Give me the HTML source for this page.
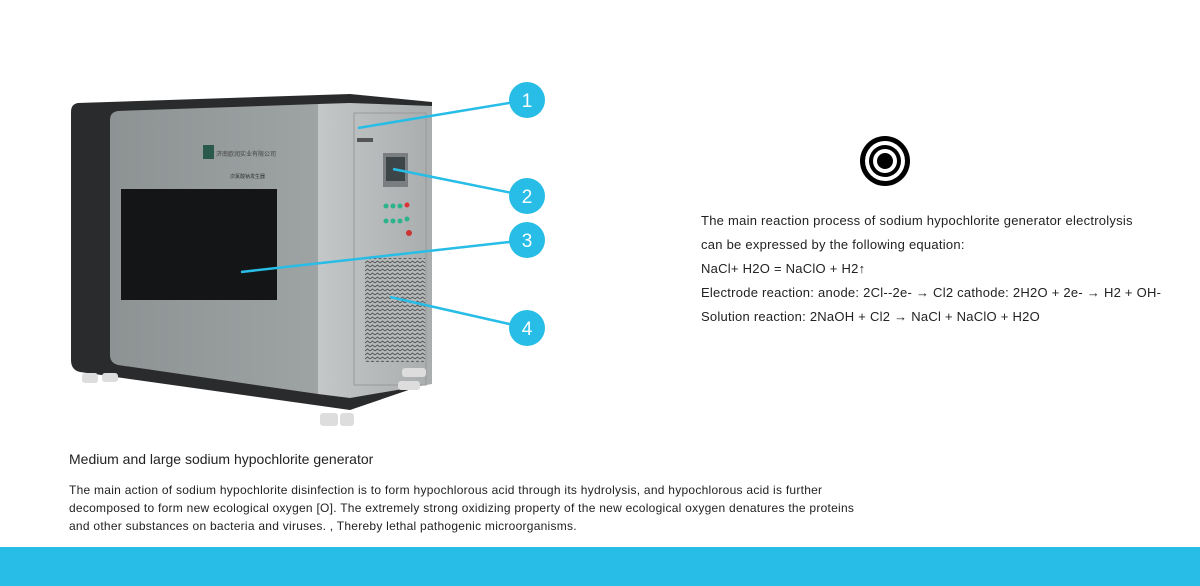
<!DOCTYPE html>
<html><head><meta charset="utf-8"><style>
body{margin:0;width:1200px;height:586px;background:#fff;position:relative;overflow:hidden;font-family:"Liberation Sans",Arial,sans-serif;color:#222}
.t{position:absolute;white-space:nowrap}
</style></head><body>
<svg width="1200" height="586" style="position:absolute;left:0;top:0">
<defs>
<linearGradient id="g1" x1="0" x2="1"><stop offset="0" stop-color="#8d9293"/><stop offset="1" stop-color="#9ea3a4"/></linearGradient>
<linearGradient id="g2" x1="0" x2="1"><stop offset="0" stop-color="#c4c7c8"/><stop offset="1" stop-color="#a9adae"/></linearGradient>
<pattern id="vp" width="5" height="4" patternUnits="userSpaceOnUse"><rect width="5" height="4" fill="#b7babb"/><path d="M0 3 L2.5 1 L5 3" stroke="#555" stroke-width="1" fill="none"/></pattern>
</defs>
<path d="M78 103 L350 94 L432 102 L432 382 L350 410 L80 372 Q71 370 71 360 L71 112 Q71 104 78 103Z" fill="#2a2b2d"/>
<path d="M118 111 L318 104 L318 394 L118 365 Q110 363 110 355 L110 120 Q110 112 118 111Z" fill="url(#g1)"/>
<path d="M318 104 L350 103 L432 106 L432 384 L350 398 L318 394Z" fill="url(#g2)"/>
<rect x="354" y="113" width="72" height="272" fill="none" stroke="#999" stroke-width="1"/>
<rect x="121" y="189" width="156" height="111" fill="#141516"/>
<rect x="383" y="153" width="25" height="34" fill="#7a7e80"/><rect x="386" y="157" width="19" height="24" fill="#3c4548"/>
<g fill="#2db38a"><circle cx="386" cy="206" r="2.5"/><circle cx="393" cy="206" r="2.5"/><circle cx="400" cy="206" r="2.5"/><circle cx="386" cy="221" r="2.5"/><circle cx="393" cy="221" r="2.5"/><circle cx="400" cy="221" r="2.5"/><circle cx="407" cy="219" r="2.5"/></g>
<circle cx="407" cy="205" r="2.5" fill="#d33"/><circle cx="409" cy="233" r="3" fill="#c33"/>
<rect x="365" y="258" width="60" height="104" fill="url(#vp)"/>
<rect x="357" y="138" width="16" height="4" fill="#555"/>
<rect x="203" y="145" width="11" height="14" fill="#2a5b4a"/>
<text x="216" y="156" font-size="6" fill="#444">济南欧润实业有限公司</text>
<text x="230" y="178" font-size="5" fill="#333">次氯酸钠发生器</text>
<g fill="#ddd"><rect x="82" y="373" width="16" height="10" rx="3"/><rect x="102" y="373" width="16" height="9" rx="3"/><rect x="320" y="413" width="18" height="13" rx="3"/><rect x="340" y="413" width="14" height="13" rx="3"/><rect x="398" y="381" width="22" height="9" rx="3"/><rect x="402" y="368" width="24" height="9" rx="3"/></g>
<g stroke="#27bde6" stroke-width="2.5"><line x1="358" y1="128" x2="527" y2="100"/><line x1="393" y1="169" x2="527" y2="196"/><line x1="241" y1="272" x2="527" y2="240"/><line x1="390" y1="297" x2="527" y2="328"/></g>
<g fill="#27bde6"><circle cx="527" cy="100" r="18"/><circle cx="527" cy="196" r="18"/><circle cx="527" cy="240" r="18"/><circle cx="527" cy="328" r="18"/></g>
<g fill="#fff" font-size="19" text-anchor="middle" font-family="Liberation Sans"><text x="527" y="107">1</text><text x="527" y="203">2</text><text x="527" y="247">3</text><text x="527" y="335">4</text></g>
<circle cx="885" cy="161" r="25" fill="#000"/><circle cx="885" cy="161" r="20" fill="#fff"/><circle cx="885" cy="161" r="16" fill="#000"/><circle cx="885" cy="161" r="12" fill="#fff"/><circle cx="885" cy="161" r="8" fill="#000"/>
<rect x="0" y="547" width="1200" height="39" fill="#27bde6"/>
</svg>
<div class="t" style="left:701px;top:209px;font-size:13px;line-height:24px;letter-spacing:0.25px">The main reaction process of sodium hypochlorite generator electrolysis<br>can be expressed by the following equation:<br>NaCl+ H2O = NaClO + H2↑<br>Electrode reaction: anode: 2Cl--2e- → Cl2 cathode: 2H2O + 2e- → H2 + OH-<br>Solution reaction: 2NaOH + Cl2 → NaCl + NaClO + H2O</div>
<div class="t" style="left:69px;top:451px;font-size:14px">Medium and large sodium hypochlorite generator</div>
<div class="t" style="left:69px;top:481px;font-size:12px;line-height:18px;letter-spacing:0.26px">The main action of sodium hypochlorite disinfection is to form hypochlorous acid through its hydrolysis, and hypochlorous acid is further<br>decomposed to form new ecological oxygen [O]. The extremely strong oxidizing property of the new ecological oxygen denatures the proteins<br>and other substances on bacteria and viruses. , Thereby lethal pathogenic microorganisms.</div>
</body></html>
